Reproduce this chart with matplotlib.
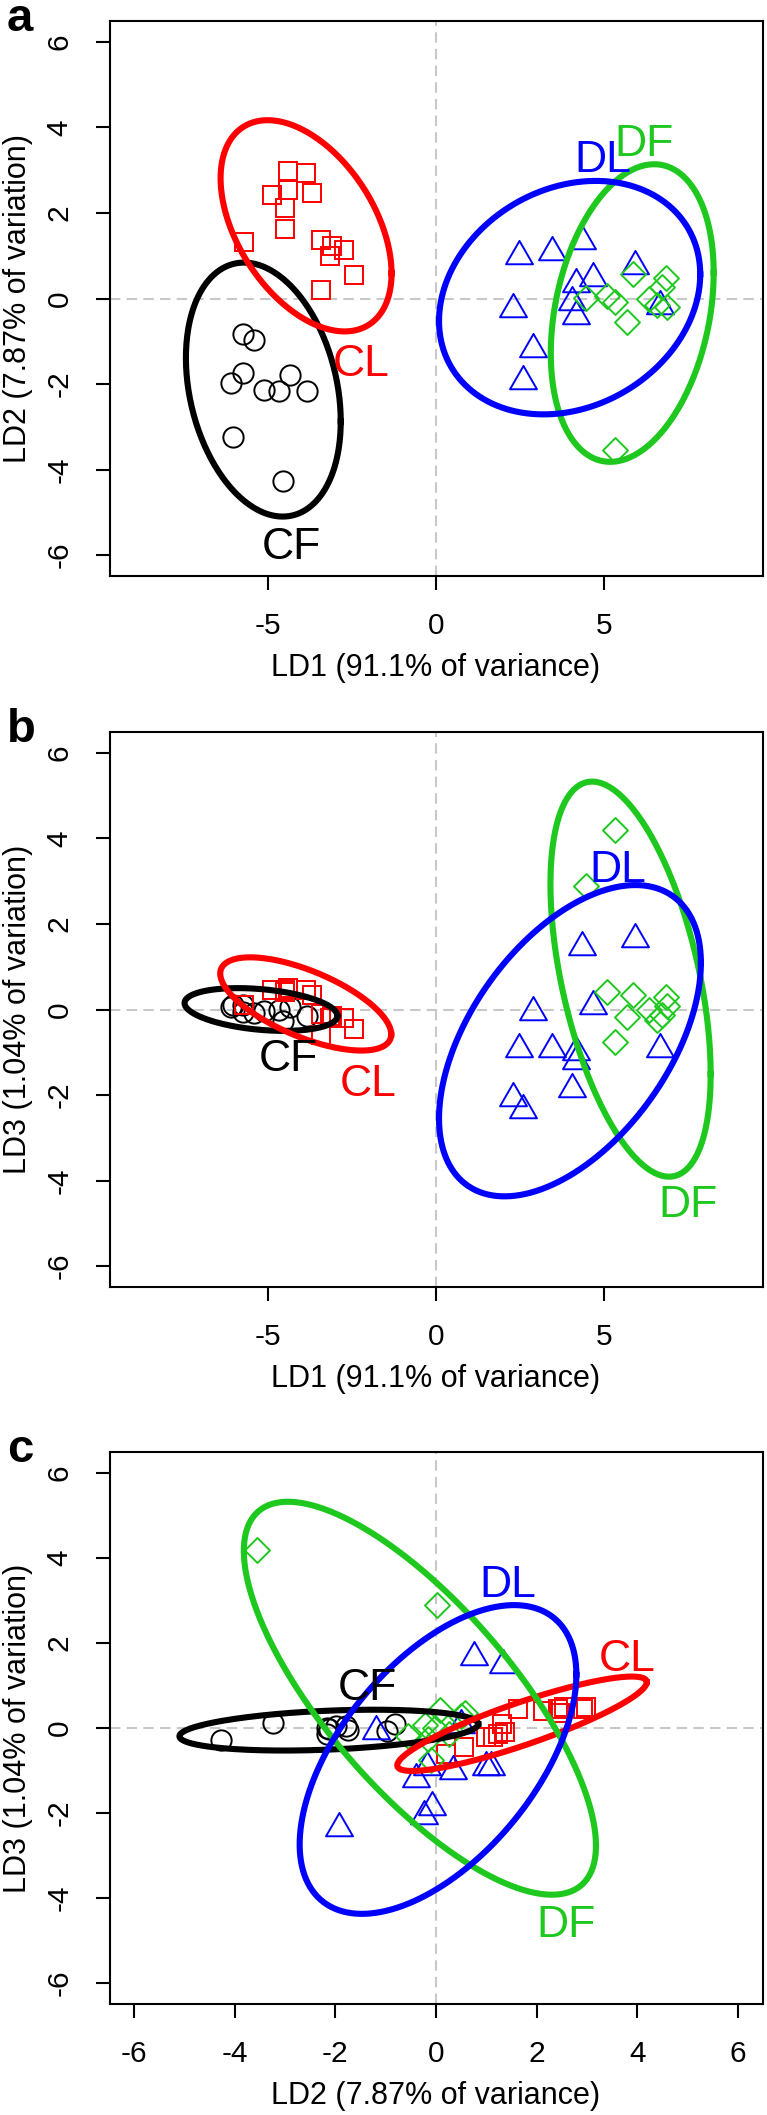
import numpy as np
import matplotlib
matplotlib.use("Agg")
import matplotlib.pyplot as plt
from matplotlib.path import Path

plt.rcParams['font.family'] = ['Liberation Sans', 'DejaVu Sans']
plt.rcParams['axes.unicode_minus'] = False

W, H = 767, 2115

groups = ["CF", "CL", "DL", "DF"]
colours = {"CF": "black", "CL": "#ff0000", "DL": "#0000ff", "DF": "#1ec81e"}

# discriminant scores
cf_ld1 = [-5.74, -5.41, -5.74, -6.10, -5.12, -4.65, -4.35, -3.84, -6.04, -4.54]
cf_ld2 = [-0.82, -0.98, -1.75, -1.98, -2.13, -2.17, -1.79, -2.16, -3.24, -4.27]
cf_ld3 = [0.10, -0.08, -0.05, 0.05, -0.03, 0.00, 0.05, -0.15, 0.11, -0.28]

cl_ld1 = [-4.39, -3.86, -4.86, -4.39, -3.67, -4.48, -4.48, -5.70, -3.41, -3.09, -2.72, -3.16, -2.45, -3.42]
cl_ld2 = [2.99, 2.93, 2.42, 2.54, 2.46, 2.12, 1.63, 1.31, 1.37, 1.23, 1.13, 0.99, 0.55, 0.20]
cl_ld3 = [0.50, 0.45, 0.45, 0.50, 0.35, 0.40, 0.45, 0.10, -0.10, -0.15, -0.20, -0.20, -0.45, -0.60]

dl_ld1 = [2.46, 3.46, 4.33, 2.30, 4.16, 4.67, 5.90, 4.04, 4.16, 2.88, 2.57, 6.65]
dl_ld2 = [0.99, 1.09, 1.34, -0.24, 0.34, 0.49, 0.76, -0.08, -0.40, -1.19, -1.92, -0.17]
dl_ld3 = [-0.92, -0.92, 1.47, -2.07, -1.00, 0.08, 1.66, -1.86, -1.20, -0.07, -2.36, -0.92]

df_ld1 = [5.31, 4.45, 5.08, 5.86, 5.68, 6.33, 6.70, 6.84, 6.85, 6.58, 5.33]
df_ld2 = [-3.55, 0.02, 0.07, 0.57, -0.56, -0.02, 0.26, 0.49, -0.21, -0.16, -0.09]
df_ld3 = [4.19, 2.90, 0.42, 0.35, -0.18, 0.00, -0.13, 0.29, 0.08, -0.25, -0.76]

scores = {
    "CF": (cf_ld1, cf_ld2, cf_ld3),
    "CL": (cl_ld1, cl_ld2, cl_ld3),
    "DL": (dl_ld1, dl_ld2, dl_ld3),
    "DF": (df_ld1, df_ld2, df_ld3),
}

# ellipses: centre x, centre y, half width, half height, correlation
ell_a = {"CF": (-5.13, -2.13, 2.30, 2.97, -0.25), "CL": (-3.86, 1.70, 2.54, 2.47, -0.45),
         "DL": (3.97, 0.02, 3.88, 2.73, 0.20), "DF": (5.83, -0.34, 2.42, 3.48, 0.27)}
ell_b = {"CF": (-5.20, 0.00, 2.27, 0.50, -0.30), "CL": (-3.87, 0.13, 2.54, 1.09, -0.65),
         "DL": (3.98, -0.73, 3.89, 3.64, 0.50), "DF": (5.78, 0.71, 2.38, 4.62, -0.48)}
ell_c = {"CF": (-2.13, -0.05, 2.97, 0.48, 0.30), "CL": (1.71, 0.10, 2.48, 1.11, 0.88),
         "DL": (0.04, -0.74, 2.75, 3.63, 0.55), "DF": (-0.32, 0.70, 3.50, 4.62, -0.75)}

# group name positions
lab_a = {"CF": (-4.29, -5.71), "CL": (-2.22, -1.45), "DL": (4.96, 3.33), "DF": (6.19, 3.70)}
lab_b = {"CF": (-4.40, -1.07), "CL": (-2.00, -1.65), "DL": (5.41, 3.35), "DF": (7.49, -4.49)}
lab_c = {"CF": (-1.36, 1.04), "CL": (3.81, 1.72), "DL": (1.43, 3.46), "DF": (2.58, -4.55)}

tri = Path([(0, 1), (-0.866, -0.5), (0.866, -0.5), (0, 1)], closed=True)
dia = Path([(0, 1), (1, 0), (0, -1), (-1, 0), (0, 1)], closed=True)
markers = {"CF": ("o", 14.6), "CL": ("s", 12.8), "DL": (tri, 22.4), "DF": (dia, 18.0)}


def ellipse_xy(cx, cy, sx, sy, rho, n=300):
    t = np.linspace(0, 2 * np.pi, n)
    x = cx + sx * np.cos(t)
    y = cy + sy * (rho * np.cos(t) + np.sqrt(1 - rho ** 2) * np.sin(t))
    return x, y


fig = plt.figure(figsize=(W / 100, H / 100), dpi=100)

# box positions in pixels: left, top, right, bottom
boxes = [(109.5, 21, 762.5, 576), (109.5, 732, 762.5, 1287), (109.5, 1452, 762.5, 2004)]
panels = [
    ("a", 0, 1, ell_a, lab_a, 9.7, [-5, 0, 5], "LD1 (91.1% of variance)", "LD2 (7.87% of variation)"),
    ("b", 0, 2, ell_b, lab_b, 9.7, [-5, 0, 5], "LD1 (91.1% of variance)", "LD3 (1.04% of variation)"),
    ("c", 1, 2, ell_c, lab_c, 6.49, [-6, -4, -2, 0, 2, 4, 6], "LD2 (7.87% of variance)", "LD3 (1.04% of variation)"),
]

for (l, t, r, b), (letter, ix, iy, ells, labs, xl, xt, xlab, ylab) in zip(boxes, panels):
    ax = fig.add_axes([l / W, 1 - b / H, (r - l) / W, (b - t) / H])
    ax.set_xlim(-xl, xl)
    ax.set_ylim(-6.49, 6.49)
    ax.axhline(0, color="#c8c8c8", lw=1.5, ls=(0, (5, 3)), zorder=0)
    ax.axvline(0, color="#c8c8c8", lw=1.5, ls=(0, (5, 3)), zorder=0)

    for g in groups:
        m, ms = markers[g]
        ax.plot(scores[g][ix], scores[g][iy], ls="none", marker=m, ms=ms,
                mfc="none", mec=colours[g], mew=1.4, zorder=2)
    for g in ["CF", "CL", "DF", "DL"]:
        ex, ey = ellipse_xy(*ells[g])
        ax.plot(ex, ey, color=colours[g], lw=4.4, zorder=3)
        ax.text(labs[g][0], labs[g][1], g, color=colours[g], fontsize=32,
                ha="center", va="center_baseline", zorder=4)

    ax.set_xticks(xt)
    ax.set_xticklabels([str(v) for v in xt])
    ax.set_yticks([-6, -4, -2, 0, 2, 4, 6])
    ax.set_yticklabels([str(v) for v in [-6, -4, -2, 0, 2, 4, 6]], rotation=90, va="center")
    ax.tick_params(direction="out", length=10, width=1.5, labelsize=21.5, pad=16)
    for s in ax.spines.values():
        s.set_linewidth(1.5)

    fig.text(((l + r) / 2) / W, 1 - (b + 92) / H, xlab, fontsize=22, ha="center", va="center")
    fig.text(18 / W, 1 - ((t + b) / 2) / H, ylab, fontsize=22, ha="center", va="center", rotation=90)
    fig.text(7 / W, 1 - (t + 10) / H, letter, fontsize=34, fontweight="bold", ha="left", va="baseline")

fig.savefig("out.png", dpi=100)
